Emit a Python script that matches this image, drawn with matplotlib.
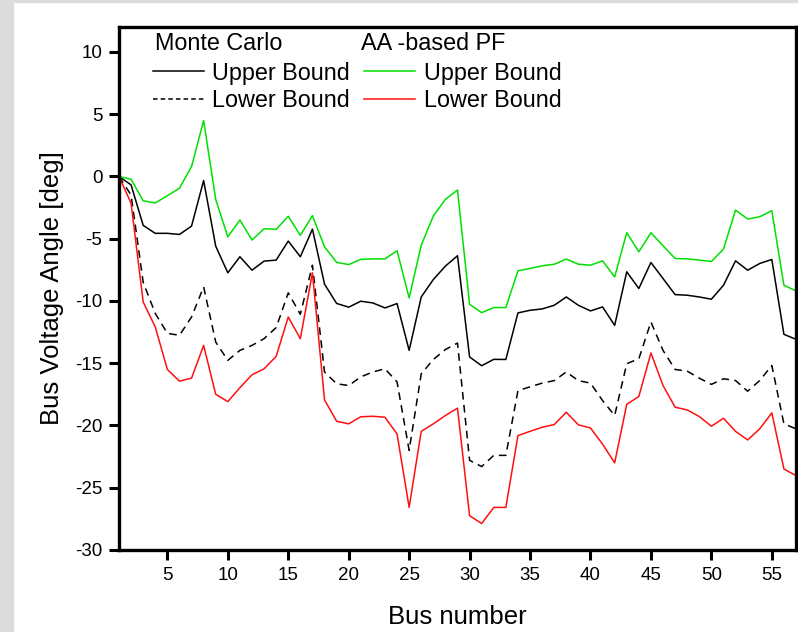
import numpy as np
import matplotlib
matplotlib.use("Agg")
import matplotlib.pyplot as plt
from matplotlib.lines import Line2D
from matplotlib.patches import Rectangle

plt.rcParams["font.family"] = ["Liberation Sans", "DejaVu Sans"]
plt.rcParams["axes.unicode_minus"] = False

# bus numbers 1..57
bus = np.arange(1, 58)

mc_upper = [0, -0.68, -3.93, -4.57, -4.57, -4.66, -3.99, -0.33, -5.6, -7.74,
            -6.45, -7.53, -6.8, -6.72, -5.19, -6.45, -4.23, -8.65, -10.2, -10.5,
            -10.02, -10.16, -10.56, -10.21, -13.97, -9.68, -8.28, -7.2, -6.37, -14.5,
            -15.2, -14.69, -14.7, -10.96, -10.75, -10.64, -10.35, -9.68, -10.35, -10.8,
            -10.48, -11.96, -7.66, -9.0, -6.91, -8.2, -9.49, -9.54, -9.68, -9.86,
            -8.74, -6.78, -7.53, -6.99, -6.67, -12.68, -13.08]

mc_lower = [0, -1.5, -8.5, -11.0, -12.6, -12.76, -11.29, -8.87, -13.3, -14.77,
            -13.97, -13.57, -13.03, -12.14, -9.35, -11.07, -7.13, -15.7, -16.65, -16.79,
            -16.1, -15.7, -15.45, -16.5, -22.0, -15.85, -14.7, -13.9, -13.38, -22.8,
            -23.3, -22.4, -22.4, -17.2, -16.9, -16.6, -16.4, -15.7, -16.4, -16.6,
            -18.0, -19.2, -15.04, -14.64, -11.69, -13.97, -15.5, -15.64, -16.2, -16.7,
            -16.25, -16.39, -17.25, -16.39, -15.18, -19.87, -20.27]

aa_upper = [0, -0.23, -1.95, -2.13, -1.55, -0.95, 0.79, 4.49, -1.84, -4.85,
            -3.5, -5.11, -4.2, -4.25, -3.2, -4.73, -3.15, -5.65, -6.9, -7.08,
            -6.66, -6.62, -6.62, -5.97, -9.76, -5.52, -3.18, -1.84, -1.09, -10.27,
            -10.94, -10.53, -10.53, -7.58, -7.39, -7.18, -7.05, -6.64, -7.05, -7.13,
            -6.78, -8.07, -4.52, -6.05, -4.52, -5.57, -6.59, -6.62, -6.72, -6.83,
            -5.84, -2.7, -3.42, -3.24, -2.75, -8.74, -9.19]

aa_lower = [0, -2.16, -10.08, -12.09, -15.5, -16.44, -16.2, -13.57, -17.5, -18.08,
            -16.97, -15.93, -15.45, -14.45, -11.29, -13.03, -7.74, -17.94, -19.66, -19.87,
            -19.3, -19.26, -19.34, -20.68, -26.58, -20.47, -19.87, -19.2, -18.61, -27.25,
            -27.87, -26.58, -26.58, -20.81, -20.47, -20.14, -19.93, -18.94, -19.95, -20.2,
            -21.5, -23.0, -18.3, -17.67, -14.18, -16.79, -18.53, -18.75, -19.28, -20.06,
            -19.42, -20.47, -21.16, -20.27, -18.99, -23.49, -24.03]

x_ticks = [5, 10, 15, 20, 25, 30, 35, 40, 45, 50, 55]
y_ticks = [10, 5, 0, -5, -10, -15, -20, -25, -30]

fig = plt.figure(figsize=(7.98, 6.32), dpi=100)
# grey page edge like the screenshot
fig.patches.append(Rectangle((0, 0), 13 / 798, 1, transform=fig.transFigure,
                             color="#dcdcdc", zorder=-10))
fig.patches.append(Rectangle((0, 1 - 2 / 632), 1, 2 / 632, transform=fig.transFigure,
                             color="#dcdcdc", zorder=-10))

ax = fig.add_axes([119 / 798, 1 - 550 / 632, 677 / 798, 523 / 632])

lw = 1.1
ax.plot(bus, mc_upper, color="black", lw=lw)
ax.plot(bus, mc_lower, color="black", lw=lw, ls=(0, (5, 3.5)))
ax.plot(bus, aa_upper, color="#00e000", lw=lw)
ax.plot(bus, aa_lower, color="#ff1010", lw=lw)

ax.set_xlim(1, 57)
ax.set_ylim(-30, 12)
ax.set_xticks(x_ticks)
ax.set_yticks(y_ticks)
for s in ax.spines.values():
    s.set_linewidth(2.4)
ax.tick_params(direction="out", length=7, width=2.2, labelsize=13.5, pad=5)

ax.set_xlabel("Bus number", fontsize=18.5, labelpad=15)
ax.set_ylabel("Bus Voltage Angle [deg]", fontsize=18.5, labelpad=8)

# two-column legend with headers
handles = [
    Line2D([], [], color="black", lw=lw),
    Line2D([], [], color="black", lw=lw, ls=(0, (3, 2))),
    Line2D([], [], color="#00e000", lw=lw),
    Line2D([], [], color="#ff1010", lw=lw),
]
labels = ["Upper Bound", "Lower Bound", "Upper Bound", "Lower Bound"]
ax.legend(handles, labels, ncol=2, frameon=False, fontsize=16.8,
          loc="upper left", bbox_to_anchor=(0.05, 0.934),
          handlelength=2.2, handletextpad=0.35, columnspacing=0.6,
          labelspacing=0.2, borderpad=0.0, borderaxespad=0.0)
ax.text(0.053, 0.969, "Monte Carlo", transform=ax.transAxes, fontsize=16.8,
        va="center", ha="left")
ax.text(0.357, 0.969, "AA -based PF", transform=ax.transAxes, fontsize=16.8,
        va="center", ha="left")

fig.savefig("out.png", dpi=100)
